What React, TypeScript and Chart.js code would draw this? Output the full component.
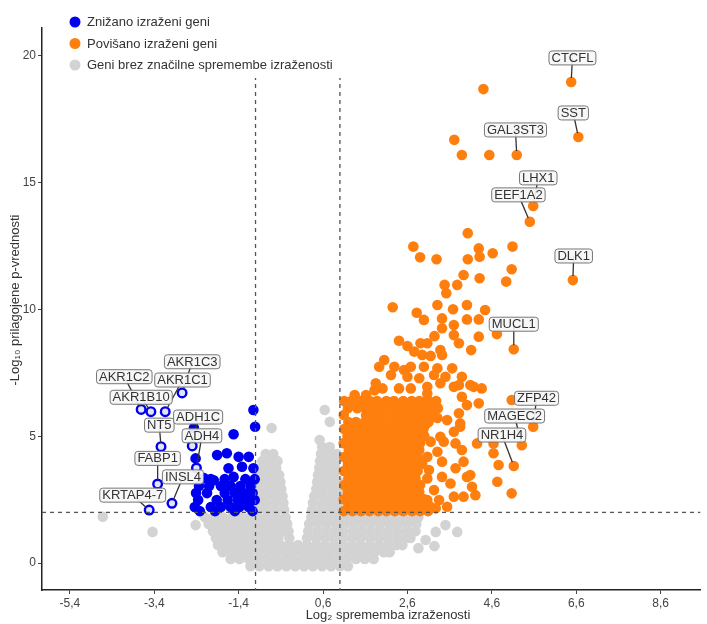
import React, { useEffect, useRef } from "react";
import { Chart, registerables } from "chart.js";

Chart.register(...registerables);

const FONT = '"Liberation Sans", "DejaVu Sans", Arial, sans-serif';

// ---------- data ----------
const legendLabels = [
  "Znižano izraženi geni",
  "Povišano izraženi geni",
  "Geni brez značilne spremembe izraženosti",
];
const xTitle = "Log₂ sprememba izraženosti";
const yTitle = "-Log₁₀ prilagojene p-vrednosti";
const xTickValues = [-5.4, -3.4, -1.4, 0.6, 2.6, 4.6, 6.6, 8.6];
const yTickValues = [0, 5, 10, 15, 20];
const foldThresholds = [-1, 1];
const pThreshold = 2;

const grayPoints: [number, number][] = [
  [-1.12,-0.12],[-0.91,-0.12],[-0.69,-0.12],[-0.48,-0.12],[-0.27,-0.12],[-0.06,-0.12],[0.15,-0.12],[0.36,-0.12],[0.58,-0.12],[0.79,-0.12],[1.0,-0.12],[1.19,-0.12],
  [-1.59,0.16],[-1.38,0.16],[-1.16,0.16],[-0.95,0.16],[-0.74,0.16],[-0.53,0.16],[-0.32,0.16],[-0.11,0.16],[0.11,0.16],[0.32,0.16],[0.53,0.16],[0.74,0.16],[0.95,0.16],[1.16,0.16],[1.38,0.16],[1.59,0.16],[1.8,0.16],
  [-1.78,0.43],[-1.56,0.43],[-1.35,0.43],[-1.14,0.43],[-0.93,0.43],[-0.72,0.43],[-0.51,0.43],[-0.29,0.43],[-0.08,0.43],[0.13,0.43],[0.34,0.43],[0.55,0.43],[0.76,0.43],[0.98,0.43],[1.19,0.43],[1.4,0.43],[1.61,0.43],[1.82,0.43],[2.04,0.43],[2.18,0.43],
  [-1.89,0.71],[-1.68,0.71],[-1.47,0.71],[-1.26,0.71],[-1.05,0.71],[-0.84,0.71],[-0.62,0.71],[-0.41,0.71],[-0.2,0.71],[0.01,0.71],[0.22,0.71],[0.44,0.71],[0.65,0.71],[0.86,0.71],[1.07,0.71],[1.28,0.71],[1.49,0.71],[1.71,0.71],[1.92,0.71],[2.13,0.71],[2.34,0.71],[2.48,0.71],
  [-1.94,0.99],[-1.73,0.99],[-1.52,0.99],[-1.31,0.99],[-1.09,0.99],[-0.88,0.99],[-0.67,0.99],[-0.46,0.99],[-0.2,0.99],[0.22,0.99],[0.44,0.99],[0.65,0.99],[0.86,0.99],[1.07,0.99],[1.28,0.99],[1.49,0.99],[1.71,0.99],[1.92,0.99],[2.13,0.99],[2.34,0.99],[2.55,0.99],[2.67,0.99],
  [-2.01,1.26],[-1.8,1.26],[-1.59,1.26],[-1.38,1.26],[-1.16,1.26],[-0.95,1.26],[-0.74,1.26],[-0.53,1.26],[-0.34,1.26],[-0.22,1.26],[0.25,1.26],[0.46,1.26],[0.67,1.26],[0.88,1.26],[1.09,1.26],[1.31,1.26],[1.52,1.26],[1.73,1.26],[1.94,1.26],[2.15,1.26],[2.36,1.26],[2.58,1.26],[2.79,1.26],
  [-2.11,1.54],[-1.89,1.54],[-1.68,1.54],[-1.47,1.54],[-1.26,1.54],[-1.05,1.54],[-0.84,1.54],[-0.62,1.54],[-0.44,1.54],[-0.25,1.54],[0.27,1.54],[0.48,1.54],[0.69,1.54],[0.91,1.54],[1.12,1.54],[1.33,1.54],[1.54,1.54],[1.75,1.54],[1.96,1.54],[2.18,1.54],[2.39,1.54],[2.6,1.54],[2.81,1.54],
  [-2.2,1.81],[-1.99,1.81],[-1.78,1.81],[-1.56,1.81],[-1.35,1.81],[-1.14,1.81],[-0.93,1.81],[-0.72,1.81],[-0.51,1.81],[-0.29,1.81],[0.32,1.81],[0.53,1.81],[0.74,1.81],[0.95,1.81],[1.16,1.81],[1.38,1.81],[1.59,1.81],[1.8,1.81],[2.01,1.81],[2.22,1.81],[2.44,1.81],[2.65,1.81],[2.86,1.81],
  [-0.95,2.09],[-0.74,2.09],[-0.53,2.09],[-0.32,2.09],[0.34,2.09],[0.55,2.09],[0.76,2.09],[0.95,2.09],
  [-0.95,2.37],[-0.76,2.37],[-0.55,2.37],[-0.34,2.37],[0.36,2.37],[0.58,2.37],[0.79,2.37],[0.95,2.37],
  [-0.95,2.64],[-0.76,2.64],[-0.55,2.64],[-0.36,2.64],[0.39,2.64],[0.6,2.64],[0.81,2.64],[0.98,2.64],
  [-0.95,2.92],[-0.76,2.92],[-0.58,2.92],[-0.39,2.92],[0.44,2.92],[0.62,2.92],[0.81,2.92],[0.98,2.92],
  [-0.93,3.2],[-0.74,3.2],[-0.55,3.2],[-0.41,3.2],[0.46,3.2],[0.65,3.2],[0.84,3.2],[0.98,3.2],
  [-0.91,3.47],[-0.72,3.47],[-0.53,3.47],[-0.44,3.47],[0.48,3.47],[0.67,3.47],[0.86,3.47],
  [-0.88,3.75],[-0.69,3.75],[-0.51,3.75],[0.51,3.75],[0.69,3.75],[0.88,3.75],
  [-0.84,4.02],[-0.65,4.02],[-0.48,4.02],[0.53,4.02],[0.72,4.02],[0.91,4.02],
  [-0.76,4.3],[-0.58,4.3],[0.55,4.3],[0.74,4.3],[0.93,4.3],
  [0.58,4.58],[0.76,4.58],
  [-0.62,5.33],[0.64,6.04],[0.76,5.57],[0.52,4.85],
  [-4.62,1.83],[-3.44,1.23],[-2.42,1.5],
  [3.03,0.91],[3.27,1.23],[3.5,1.5],[3.78,1.23],[3.24,0.67],[2.86,0.59],
];

const downPoints: [number, number][] = [
  [-1.05,6.04],[-1.01,5.38],[-1.52,5.08],[-1.91,4.26],[-1.68,4.33],[-1.4,4.19],[-1.16,4.19],
  [-1.64,3.74],[-1.32,3.8],[-1.05,3.74],[-1.52,3.4],[-1.99,3.27],[-2.42,4.13],[-2.46,5.33],[-2.22,3.35],
  [-2.06,3.31],[-1.73,3.31],[-1.24,3.31],[-1.02,3.31],
  [-2.34,3.04],[-2.1,3.04],[-1.82,3.04],[-1.59,3.04],[-1.36,3.04],[-1.12,3.04],
  [-2.41,2.76],[-2.15,2.76],[-1.73,2.76],[-1.49,2.76],[-1.28,2.76],[-1.07,2.76],
  [-2.36,2.49],[-1.92,2.49],[-1.66,2.49],[-1.42,2.49],[-1.21,2.49],[-1.02,2.49],
  [-2.44,2.21],[-2.06,2.21],[-1.82,2.21],[-1.59,2.21],[-1.38,2.21],[-1.16,2.21],
  [-2.32,2.05],[-1.96,2.05],[-1.49,2.05],[-1.07,2.05],
];

const upPoints: [number, number][] = [
  [4.4,18.69],[3.71,16.69],[3.89,16.09],[4.54,16.09],[4.03,13.01],[4.29,12.41],[4.31,12.08],[4.62,12.22],
  [5.09,12.48],[5.07,11.59],[4.94,11.1],[4.31,11.23],[2.74,12.48],[2.9,12.06],[3.29,11.98],[4.03,11.98],
  [3.93,11.36],[3.78,10.97],[3.48,10.97],[3.52,10.64],[3.31,10.18],[3.68,10.01],[4.01,10.18],[4.44,9.98],
  [2.25,10.09],[2.82,9.87],[2.99,9.59],[3.42,9.65],[3.7,9.39],[4.01,9.61],[4.29,9.61],[4.72,9.03],
  [4.29,8.93],[3.24,8.95],[3.42,9.26],[3.7,8.99],[3.82,8.67],[4.11,8.4],[2.4,8.77],[2.6,8.56],
  [2.91,8.67],[3.07,8.67],[3.38,8.4],[2.76,8.34],[2.95,8.21],[3.15,8.17],[3.42,8.21],[2.05,8.01],
  [1.93,7.74],[2.29,7.74],[2.52,7.61],[2.68,7.74],[2.99,7.74],[3.31,7.68],[3.66,7.68],[3.89,7.35],
  [2.21,7.42],[2.6,7.35],[2.88,7.29],[3.23,7.42],[3.5,7.35],[1.85,7.09],[2.01,6.89],[2.4,6.89],
  [2.68,6.89],[3.07,6.95],[3.38,7.09],[3.7,6.95],[4.17,6.95],[4.36,6.89],[1.35,6.63],[1.62,6.63],
  [1.82,6.82],[3.07,6.69],[3.82,7.02],[4.09,7.02],[4.29,6.3],[4.01,6.23],[3.82,5.91],[3.54,5.64],
  [3.85,5.51],[3.7,5.18],[3.38,4.98],[3.15,4.79],[3.46,4.79],[3.74,4.72],[3.89,4.46],[4.25,4.72],
  [4.64,4.72],[3.31,4.39],[3.07,4.19],[3.42,4.0],[3.93,4.0],[4.64,4.33],[4.76,3.87],[3.11,3.67],
  [3.74,3.74],[4.01,3.4],[3.42,3.4],[3.07,3.34],[3.62,3.14],[4.13,3.01],[4.73,3.21],[5.07,2.75],
  [3.23,2.88],[3.7,2.62],[3.93,2.62],[3.35,2.49],[3.07,2.49],[5.07,6.43],[3.27,2.16],[3.54,2.22],
  [4.21,2.68],[3.89,6.56],[3.85,5.38],[4.09,3.47],[2.95,6.35],[3.14,6.04],[3.31,5.72],[3.02,5.44],
  [1.1,6.39],[1.27,6.39],[1.5,6.39],[1.71,6.39],[1.88,6.39],[2.1,6.39],[2.28,6.39],[2.5,6.39],[2.7,6.39],[2.88,6.39],[3.1,6.39],[3.28,6.39],
  [1.19,6.11],[1.41,6.11],[1.6,6.11],[1.78,6.11],[2.0,6.11],[2.19,6.11],[2.4,6.11],[2.58,6.11],[2.79,6.11],[3.0,6.11],[3.2,6.11],[3.32,6.11],
  [1.09,5.84],[1.62,5.84],[1.7,5.84],[1.9,5.84],[2.08,5.84],[2.31,5.84],[2.49,5.84],[2.7,5.84],[2.88,5.84],[3.08,5.84],[3.22,5.84],
  [1.2,5.56],[1.38,5.56],[1.59,5.56],[1.8,5.56],[1.99,5.56],[2.2,5.56],[2.38,5.56],[2.6,5.56],[2.79,5.56],[2.98,5.56],[3.1,5.56],
  [1.1,5.29],[1.3,5.29],[1.49,5.29],[1.69,5.29],[1.91,5.29],[2.09,5.29],[2.3,5.29],[2.49,5.29],[2.7,5.29],[2.9,5.29],[2.98,5.29],
  [1.18,5.01],[1.4,5.01],[1.6,5.01],[1.79,5.01],[2.01,5.01],[2.18,5.01],[2.39,5.01],[2.61,5.01],[2.8,5.01],[3.0,5.01],
  [1.09,4.73],[1.29,4.73],[1.5,4.73],[1.7,4.73],[1.89,4.73],[2.1,4.73],[2.29,4.73],[2.5,4.73],[2.69,4.73],[2.9,4.73],
  [1.21,4.46],[1.39,4.46],[1.6,4.46],[1.81,4.46],[1.99,4.46],[2.2,4.46],[2.41,4.46],[2.59,4.46],[2.8,4.46],[2.88,4.46],
  [1.1,4.18],[1.3,4.18],[1.49,4.18],[1.7,4.18],[1.9,4.18],[2.1,4.18],[2.3,4.18],[2.49,4.18],[2.7,4.18],[2.84,4.18],
  [1.19,3.91],[1.4,3.91],[1.61,3.91],[1.79,3.91],[2.0,3.91],[2.21,3.91],[2.4,3.91],[2.59,3.91],[2.8,3.91],[2.95,3.91],
  [1.09,3.63],[1.31,3.63],[1.5,3.63],[1.69,3.63],[1.89,3.63],[2.09,3.63],[2.3,3.63],[2.5,3.63],[2.69,3.63],[2.84,3.63],
  [1.2,3.35],[1.39,3.35],[1.59,3.35],[1.8,3.35],[2.01,3.35],[2.19,3.35],[2.39,3.35],[2.6,3.35],[2.79,3.35],
  [1.1,3.08],[1.29,3.08],[1.51,3.08],[1.7,3.08],[1.9,3.08],[2.11,3.08],[2.29,3.08],[2.5,3.08],[2.71,3.08],[2.9,3.08],
  [1.19,2.8],[1.41,2.8],[1.6,2.8],[1.79,2.8],[1.99,2.8],[2.2,2.8],[2.4,2.8],[2.59,2.8],[2.8,2.8],[2.88,2.8],
  [1.09,2.52],[1.3,2.52],[1.49,2.52],[1.71,2.52],[1.9,2.52],[2.09,2.52],[2.31,2.52],[2.5,2.52],[2.69,2.52],[2.9,2.52],[3.0,2.52],
  [1.2,2.25],[1.4,2.25],[1.59,2.25],[1.8,2.25],[2.0,2.25],[2.19,2.25],[2.41,2.25],[2.6,2.25],[2.79,2.25],[3.0,2.25],[3.12,2.25],
  [1.09,2.05],[1.3,2.05],[1.5,2.05],[1.7,2.05],[1.91,2.05],[2.1,2.05],[2.3,2.05],[2.5,2.05],[2.71,2.05],[2.9,2.05],[3.09,2.05],
];

const upGeneNames = ["CTCFL", "SST", "GAL3ST3", "LHX1", "EEF1A2", "DLK1", "MUCL1", "ZFP42", "MAGEC2", "NR1H4"];
const upGenePoints: [number, number][] = [
  [6.48,18.97],[6.65,16.8],[5.19,16.09],[5.58,14.08],[5.5,13.46],[6.52,11.16],[5.12,8.43],[5.58,5.38],[5.31,4.65],[5.12,3.83],
];
const upGeneLabelAt: [number, number][] = [
  [6.51,19.92],[6.53,17.75],[5.16,17.08],[5.7,15.19],[5.23,14.52],[6.54,12.11],[5.12,9.42],[5.66,6.5],[5.14,5.8],[4.84,5.05],
];

const downGeneNames = ["AKR1C3", "AKR1C1", "AKR1C2", "AKR1B10", "NT5", "ADH1C", "ADH4", "FABP1", "INSL4", "KRTAP4-7"];
const downGenePoints: [number, number][] = [
  [-2.74,6.71],[-3.14,5.97],[-3.71,6.06],[-3.48,5.97],[-3.24,4.59],[-2.5,4.62],[-2.4,3.75],[-3.32,3.12],[-2.98,2.36],[-3.52,2.09],
];
const downGeneLabelAt: [number, number][] = [
  [-2.5,7.94],[-2.73,7.22],[-4.11,7.35],[-3.71,6.54],[-3.28,5.44],[-2.36,5.76],[-2.27,5.02],[-3.32,4.13],[-2.72,3.4],[-3.91,2.68],
];

// ---------- styles ----------
const BLUE = "#0000f0";
const ORANGE = "#ff7f0e";
const GRAY = "#d3d3d3";
const legendColors = [BLUE, ORANGE, GRAY];

const toXY = (arr: [number, number][]) => arr.map(([x, y]) => ({ x, y }));

const overlayPlugin = {
  id: "overlay",
  afterDatasetsDraw(chart: any) {
    const { ctx, chartArea, scales } = chart;
    const xs = scales.x;
    const ys = scales.y;
    ctx.save();
    // threshold lines
    ctx.strokeStyle = "#555";
    ctx.lineWidth = 1.3;
    ctx.setLineDash([4, 4]);
    for (const t of foldThresholds) {
      const px = xs.getPixelForValue(t);
      ctx.beginPath();
      ctx.moveTo(px, chartArea.top);
      ctx.lineTo(px, chartArea.bottom);
      ctx.stroke();
    }
    const py = ys.getPixelForValue(pThreshold);
    ctx.beginPath();
    ctx.moveTo(chartArea.left, py);
    ctx.lineTo(chartArea.right, py);
    ctx.stroke();
    ctx.setLineDash([]);

    // gene labels
    const names = [...upGeneNames, ...downGeneNames];
    const pts = [...upGenePoints, ...downGenePoints];
    const at = [...upGeneLabelAt, ...downGeneLabelAt];
    ctx.strokeStyle = "#333";
    ctx.lineWidth = 1.3;
    names.forEach((_, i) => {
      const bx = xs.getPixelForValue(at[i][0]);
      const by = ys.getPixelForValue(at[i][1]);
      const qx = xs.getPixelForValue(pts[i][0]);
      const qy = ys.getPixelForValue(pts[i][1]);
      const d = Math.hypot(qx - bx, qy - by) || 1;
      const ex = qx - ((qx - bx) / d) * 4;
      const ey = qy - ((qy - by) / d) * 4;
      ctx.beginPath();
      ctx.moveTo(bx, by);
      ctx.lineTo(ex, ey);
      ctx.stroke();
    });
    ctx.font = `13px ${FONT}`;
    ctx.textAlign = "center";
    ctx.textBaseline = "middle";
    names.forEach((name, i) => {
      const bx = xs.getPixelForValue(at[i][0]);
      const by = ys.getPixelForValue(at[i][1]);
      const w = ctx.measureText(name).width + 5;
      const h = 14;
      ctx.beginPath();
      ctx.roundRect(bx - w / 2, by - h / 2, w, h, 3);
      ctx.fillStyle = "rgba(246,246,246,0.92)";
      ctx.fill();
      ctx.strokeStyle = "#777";
      ctx.lineWidth = 1;
      ctx.stroke();
      ctx.fillStyle = "#333";
      ctx.fillText(name, bx, by + 0.5);
    });
    ctx.restore();
  },
  afterDraw(chart: any) {
    const { ctx } = chart;
    ctx.save();
    // legend
    ctx.fillStyle = "#ffffff";
    ctx.fillRect(64, 8, 282, 70);
    ctx.font = `13px ${FONT}`;
    ctx.textAlign = "left";
    ctx.textBaseline = "middle";
    legendLabels.forEach((label, i) => {
      const cy = 22 + i * 21.5;
      ctx.beginPath();
      ctx.arc(75, cy, 5.5, 0, Math.PI * 2);
      ctx.fillStyle = legendColors[i];
      ctx.fill();
      ctx.fillStyle = "#333";
      ctx.fillText(label, 87, cy + 0.5);
    });
    // axis titles
    ctx.fillStyle = "#333";
    ctx.font = `13px ${FONT}`;
    ctx.textAlign = "center";
    ctx.textBaseline = "middle";
    ctx.fillText(xTitle, 388, 615);
    ctx.translate(15, 300);
    ctx.rotate(-Math.PI / 2);
    ctx.fillText(yTitle, 0, 0);
    ctx.restore();
  },
};

export default function App() {
  const canvasRef = useRef<HTMLCanvasElement | null>(null);

  useEffect(() => {
    const canvas = canvasRef.current;
    if (!canvas) return;
    const chart = new Chart(canvas, {
      type: "scatter",
      data: {
        datasets: [
          {
            label: "labelled down",
            data: toXY(downGenePoints),
            pointRadius: 4.3,
            pointBackgroundColor: "#e4e4f4",
            pointBorderColor: BLUE,
            pointBorderWidth: 2.4,
            order: 0,
          },
          {
            label: legendLabels[0],
            data: toXY(downPoints),
            pointRadius: 5.3,
            pointBackgroundColor: BLUE,
            pointBorderWidth: 0,
            order: 1,
          },
          {
            label: legendLabels[1],
            data: toXY([...upPoints, ...upGenePoints]),
            pointRadius: 5.3,
            pointBackgroundColor: ORANGE,
            pointBorderWidth: 0,
            order: 2,
          },
          {
            label: legendLabels[2],
            data: toXY(grayPoints),
            pointRadius: 5.3,
            pointBackgroundColor: GRAY,
            pointBorderWidth: 0,
            order: 3,
          },
        ],
      },
      options: {
        responsive: false,
        animation: false,
        events: [],
        layout: { padding: { top: 28, right: 2, bottom: 0, left: 0 } },
        plugins: { legend: { display: false }, tooltip: { enabled: false } },
        scales: {
          x: {
            type: "linear",
            min: -6.06,
            max: 9.54,
            afterBuildTicks: (s: any) => {
              s.ticks = xTickValues.map((v) => ({ value: v }));
            },
            afterFit: (s: any) => {
              s.height = 34;
            },
            grid: { display: true, drawOnChartArea: false, drawTicks: true, tickLength: 4, tickColor: "#444" },
            border: { display: true, color: "#222", width: 1.5 },
            ticks: {
              font: { family: FONT, size: 12 },
              color: "#444",
              padding: 2,
              maxRotation: 0,
              autoSkip: false,
              callback: (v: any) => String(v).replace(".", ","),
            },
          },
          y: {
            type: "linear",
            min: -1.06,
            max: 21.1,
            afterBuildTicks: (s: any) => {
              s.ticks = yTickValues.map((v) => ({ value: v }));
            },
            afterFit: (s: any) => {
              s.width = 42;
            },
            grid: { display: true, drawOnChartArea: false, drawTicks: true, tickLength: 4, tickColor: "#444" },
            border: { display: true, color: "#222", width: 1.5 },
            ticks: {
              font: { family: FONT, size: 12 },
              color: "#444",
              padding: 2,
              autoSkip: false,
              callback: (v: any) => String(v),
            },
          },
        },
      },
      plugins: [overlayPlugin],
    });
    return () => chart.destroy();
  }, []);

  return (
    <div style={{ position: "fixed", left: 0, top: 0, width: 707, height: 624, background: "#fff" }}>
      <canvas ref={canvasRef} width={707} height={624} style={{ display: "block" }} />
    </div>
  );
}
